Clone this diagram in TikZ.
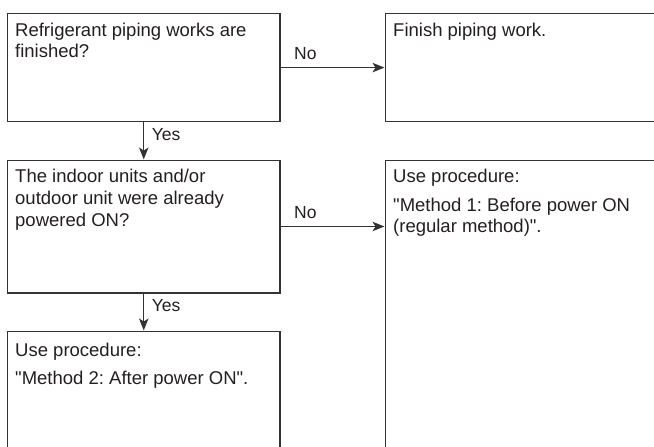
\documentclass[tikz,border=0pt]{standalone}
\usepackage{fontspec}
\setmainfont{Liberation Sans}[Ligatures=TeXOff]
\usetikzlibrary{arrows.meta}
\frenchspacing
\definecolor{linec}{HTML}{333333}
\definecolor{textc}{HTML}{231F20}
\tikzset{
  box/.style={draw=linec, line width=1.2pt, inner sep=0pt, anchor=north west},
  boxtext/.style={anchor=base west, inner sep=0pt, align=left, text=textc,
    font=\fontsize{18.5}{21.7}\selectfont},
  lbl/.style={anchor=base west, inner sep=0pt, text=textc,
    font=\fontsize{17.5}{20}\selectfont},
  arr/.style={draw=linec, line width=1.2pt, -{Stealth[length=12pt,width=9.5pt,inset=3pt]}}
}
\begin{document}
\begin{tikzpicture}[x=1pt,y=-1pt]
\useasboundingbox (0,0) rectangle (654,447);
\clip (0,0) rectangle (654,447);
% boxes
\node[box, minimum width=272.3pt, minimum height=108pt] (A) at (7,13) {};
\node[box, minimum width=290pt, minimum height=108pt] (B) at (384.5,13) {};
\node[box, minimum width=272.3pt, minimum height=132.8pt] (C) at (7,159.5) {};
\node[box, minimum width=290pt, minimum height=310pt] (D) at (384.5,159.5) {};
\node[box, minimum width=272.3pt, minimum height=140pt] (E) at (7,330.5) {};
% texts (anchor = baseline of the last line)
\node[boxtext] (tA) at (15,57.7) {Refrigerant piping works are\\finished?};
\node[boxtext] (tB) at (393,36) {Finish piping work.};
\node[boxtext] (tC) at (15,226.1) {The indoor units and/or\\outdoor unit were already\\powered ON?};
\node[boxtext] (tD) at (393,232.7) {Use procedure:\\[7pt]"Method 1: Before power ON\\(regular method)".};
\node[boxtext] (tE) at (15,384.7) {Use procedure:\\[7pt]"Method 2: After power ON".};
% connectors
\draw[arr] (A.east) -- (B.west);
\draw[arr] (C.east) -- (C.east -| D.west);
\draw[arr] (A.south) -- (C.north);
\draw[arr] (C.south) -- (E.north);
% labels
\node[lbl] (n1) at (294,59.3) {No};
\node[lbl] (n2) at (294,218) {No};
\node[lbl] (y1) at (151.7,140) {Yes};
\node[lbl] (y2) at (151.7,311) {Yes};
\end{tikzpicture}
\end{document}
